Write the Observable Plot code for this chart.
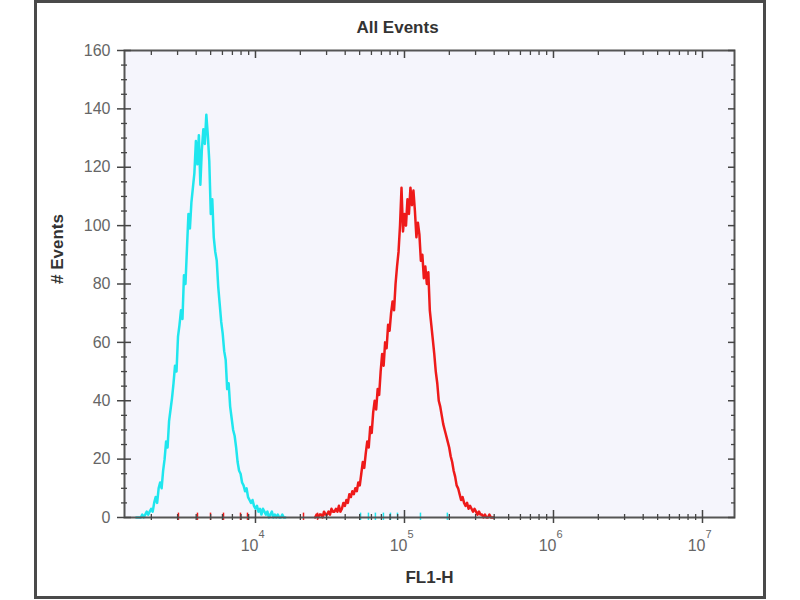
<!DOCTYPE html>
<html>
<head>
<meta charset="utf-8">
<script src="https://cdn.jsdelivr.net/npm/d3@7"></script>
<script src="https://cdn.jsdelivr.net/npm/@observablehq/plot@0.6"></script>
<style>
  html, body { margin: 0; padding: 0; background: #fff; }
  #wrap { position: relative; width: 800px; height: 600px; overflow: hidden; }
  #border { position: absolute; left: 34px; top: 0px; width: 726px; height: 593px; border: 3px solid #4a4a4a; pointer-events: none; }
</style>
</head>
<body>
<div id="wrap"><div id="border"></div></div>
<script>
// ---- data (FL1-H histogram, log channels of 0.01 decade) ----
const title = "All Events";
const xLabel = "FL1-H";
const yLabel = "# Events";

const cyanStartExp = 3.20;   // log10(FL1-H) of first channel
const cyanCounts = [
  0,0,0,0,1,0,1,2,1,2,
  3,2,5,7,5,10,12,10,16,20,
  26,24,33,37,41,46,52,50,62,66,
  71,68,83,80,92,104,99,108,113,118,
  129,121,131,114,126,133,128,138,131,122,
  104,109,96,91,88,79,73,67,63,57,
  54,44,46,38,34,30,28,24,19,16,
  15,12,11,9,10,7,6,5,6,4,
  3,4,2,3,1,3,2,1,2,0,
  1,2,0,1,0,1,0,0,1,0,0
];

const redStartExp = 4.40;
const redCounts = [
  0,1,0,1,1,0,2,1,1,2,
  1,3,2,2,3,2,4,2,3,5,
  4,6,5,8,7,9,8,10,9,12,
  11,15,19,17,22,26,24,31,29,36,
  40,37,44,42,50,56,52,60,58,66,
  64,70,74,71,80,86,91,100,113,98,
  104,100,109,104,113,107,112,105,96,101,
  97,88,90,82,86,80,84,71,66,61,
  56,50,46,40,38,35,32,30,28,26,
  24,21,19,16,14,11,10,8,6,7,
  5,4,5,3,4,3,2,3,2,1,
  2,1,1,0,1,0,0,1,0,0,0
];
const channelStep = 0.01;

// isolated single-event specks on the baseline
const redSpecks = [3040, 4080, 4990, 6100, 7930, 8840, 21000, 26100];
const cyanSpecks = [50700, 57300, 63800, 72200, 80500, 89700, 128000, 194000];

// axis ticks
const xDomain = [1321, 1.64e7];
const yDomain = [0, 160];
const xMajor = [1e4, 1e5, 1e6, 1e7];
const xMinor = [2e3,3e3,4e3,5e3,6e3,7e3,8e3,9e3,
                2e4,3e4,4e4,5e4,6e4,7e4,8e4,9e4,
                2e5,3e5,4e5,5e5,6e5,7e5,8e5,9e5,
                2e6,3e6,4e6,5e6,6e6,7e6,8e6,9e6];
const yMajor = [0, 20, 40, 60, 80, 100, 120, 140, 160];
const yMinor = [5,10,15,25,30,35,45,50,55,65,70,75,85,90,95,105,110,115,125,130,135,145,150,155];

const cyanColor = "#1fe6ee";
const redColor = "#ee1a1a";
const tickColor = "#454545";

const cyan = cyanCounts.map((c, i) => ({x: Math.pow(10, cyanStartExp + i * channelStep), y: c}));
const red = redCounts.map((c, i) => ({x: Math.pow(10, redStartExp + i * channelStep), y: c}));

const font = "'Liberation Sans', Arial, Helvetica, sans-serif";

const chart = Plot.plot({
  width: 800,
  height: 600,
  marginLeft: 124,
  marginRight: 66,
  marginTop: 50,
  marginBottom: 83,
  style: {fontFamily: font, background: "transparent", overflow: "visible"},
  x: {type: "log", domain: xDomain, axis: null},
  y: {domain: yDomain, axis: null},
  marks: [
    Plot.frame({fill: "#f5f5fc", stroke: "none"}),
    Plot.line(cyan, {x: "x", y: "y", stroke: cyanColor, strokeWidth: 2.5}),
    Plot.line(red, {x: "x", y: "y", stroke: redColor, strokeWidth: 2.5}),
    Plot.ruleX(redSpecks, {x: d => d, y1: -1, y2: 1.5, stroke: redColor, strokeWidth: 1.5}),
    Plot.ruleX(cyanSpecks, {x: d => d, y1: -1, y2: 1.5, stroke: cyanColor, strokeWidth: 1.5}),
    Plot.frame({stroke: "#555", strokeWidth: 2}),
    // bottom axis ticks (crossing)
    Plot.axisX(xMajor, {anchor: "bottom", tickSize: 13, dy: -7, stroke: tickColor, strokeWidth: 1.5, fill: "none", label: null}),
    Plot.axisX(xMinor, {anchor: "bottom", tickSize: 6, dy: -3, stroke: tickColor, strokeWidth: 1.3, fill: "none", label: null}),
    // top axis ticks (inward)
    Plot.axisX(xMajor, {anchor: "top", tickSize: 7, dy: 7, stroke: tickColor, strokeWidth: 1.5, fill: "none", label: null}),
    Plot.axisX(xMinor, {anchor: "top", tickSize: 4, dy: 4, stroke: tickColor, strokeWidth: 1.3, fill: "none", label: null}),
    // left axis ticks (crossing)
    Plot.axisY(yMajor, {anchor: "left", tickSize: 14, dx: 7, stroke: tickColor, strokeWidth: 1.5, fill: "none", label: null}),
    Plot.axisY(yMinor, {anchor: "left", tickSize: 6, dx: 3, stroke: tickColor, strokeWidth: 1.3, fill: "none", label: null}),
    // right axis ticks (inward)
    Plot.axisY(yMajor, {anchor: "right", tickSize: 7, dx: -7, stroke: tickColor, strokeWidth: 1.5, fill: "none", label: null}),
    Plot.axisY(yMinor, {anchor: "right", tickSize: 4, dx: -4, stroke: tickColor, strokeWidth: 1.3, fill: "none", label: null}),
    // tick labels
    Plot.axisY(yMajor, {anchor: "left", tickSize: 0, tickPadding: 14, fontSize: 16, fill: "#666", label: null}),
    Plot.axisX(xMajor, {anchor: "bottom", tickSize: 0, tickPadding: 22, fontSize: 16, fill: "#666", textAnchor: "end", dx: 3, tickFormat: () => "10", label: null}),
    Plot.axisX(xMajor, {anchor: "bottom", tickSize: 0, tickPadding: 13, fontSize: 11, fill: "#666", textAnchor: "start", dx: 3, tickFormat: d => String(Math.round(Math.log10(d))), label: null}),
    // titles
    Plot.text([title], {text: d => d, frameAnchor: "top", lineAnchor: "middle", dx: -32, dy: -23, fontSize: 17, fontWeight: "bold", fill: "#333"}),
    Plot.text([xLabel], {text: d => d, frameAnchor: "bottom", lineAnchor: "middle", dy: 60, fontSize: 17, fontWeight: "bold", fill: "#333"}),
    Plot.text([yLabel], {text: d => d, frameAnchor: "left", lineAnchor: "middle", dx: -67, rotate: -90, fontSize: 17, fontWeight: "bold", fill: "#333"})
  ]
});
document.getElementById("wrap").prepend(chart);
</script>
</body>
</html>
